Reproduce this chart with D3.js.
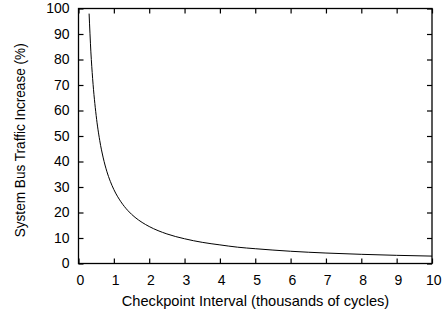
<!DOCTYPE html>
<html>
<head>
<meta charset="utf-8">
<style>
  body { margin: 0; background: #fff; }
  text { font-family: "Liberation Sans", Arial, Helvetica, sans-serif; }
</style>
</head>
<body>
<svg width="445" height="313"></svg>
<script src="https://d3js.org/d3.v7.min.js"></script>
<script>
// checkpoint interval (thousands of cycles)
const interval = [0.3, 0.35, 0.4, 0.5, 0.6, 0.7, 0.8, 0.9, 1.0, 1.2, 1.4, 1.6, 1.8,
  2.0, 2.5, 3, 3.5, 4, 4.5, 5, 6, 7, 8, 9, 10];
// system bus traffic increase (%)
const traffic = [98, 83, 72.5, 58, 48.3, 41.4, 36.2, 32.2, 29, 24.2, 20.7, 18.1, 16.1,
  14.5, 11.6, 9.7, 8.3, 7.3, 6.4, 5.8, 4.8, 4.1, 3.6, 3.2, 2.9];
const xTicks = [0, 1, 2, 3, 4, 5, 6, 7, 8, 9, 10];
const yTicks = [0, 10, 20, 30, 40, 50, 60, 70, 80, 90, 100];

const svg = d3.select('svg');
const mLeft = 78.5, mRight = 432, mTop = 8.5, mBottom = 263.5;
const tickFont = '14px';

const x = d3.scaleLinear().domain([0, 10]).range([mLeft, mRight]);
const y = d3.scaleLinear().domain([0, 100]).range([mBottom, mTop]);

// axes with inward ticks, mirrored on top and right
const tick = 5;
svg.append('g')
  .attr('transform', `translate(0,${mBottom})`)
  .call(d3.axisBottom(x).tickValues(xTicks).tickSizeInner(-tick).tickSizeOuter(0).tickPadding(12))
  .call(g => g.select('.domain').remove())
  .call(g => g.selectAll('text').attr('dx', 1.3));
svg.append('g')
  .attr('transform', `translate(0,${mTop})`)
  .call(d3.axisTop(x).tickValues(xTicks).tickSizeInner(-tick).tickSizeOuter(0).tickFormat(''))
  .call(g => g.select('.domain').remove());
svg.append('g')
  .attr('transform', `translate(${mLeft},0)`)
  .call(d3.axisLeft(y).tickValues(yTicks).tickSizeInner(-tick).tickSizeOuter(0).tickPadding(9))
  .call(g => g.select('.domain').remove());
svg.append('g')
  .attr('transform', `translate(${mRight},0)`)
  .call(d3.axisRight(y).tickValues(yTicks).tickSizeInner(-tick).tickSizeOuter(0).tickFormat(''))
  .call(g => g.select('.domain').remove());

svg.selectAll('.tick line').attr('stroke', '#000').attr('stroke-width', 1.2);
svg.selectAll('.tick text')
  .attr('font-family', '"Liberation Sans", Arial, sans-serif')
  .attr('font-size', tickFont)
  .attr('fill', '#000');

// border
svg.append('rect')
  .attr('x', mLeft).attr('y', mTop)
  .attr('width', mRight - mLeft).attr('height', mBottom - mTop)
  .attr('fill', 'none')
  .attr('stroke', '#000')
  .attr('stroke-width', 1.3);

// curve
const pts = interval.map((d, i) => [d, traffic[i]]);
svg.append('path')
  .datum(pts)
  .attr('d', d3.line().x(d => x(d[0])).y(d => y(d[1])).curve(d3.curveMonotoneX))
  .attr('fill', 'none')
  .attr('stroke', '#000')
  .attr('stroke-width', 1);

// labels
svg.append('text')
  .attr('x', 255.5)
  .attr('y', 306)
  .attr('text-anchor', 'middle')
  .attr('font-size', '15px')
  .attr('textLength', 267.5)
  .attr('lengthAdjust', 'spacingAndGlyphs')
  .text('Checkpoint Interval (thousands of cycles)');

svg.append('text')
  .attr('transform', 'translate(24.5,140.3) rotate(-90)')
  .attr('text-anchor', 'middle')
  .attr('font-size', '14.5px')
  .attr('textLength', 194)
  .attr('lengthAdjust', 'spacingAndGlyphs')
  .text('System Bus Traffic Increase (%)');
</script>
</body>
</html>
